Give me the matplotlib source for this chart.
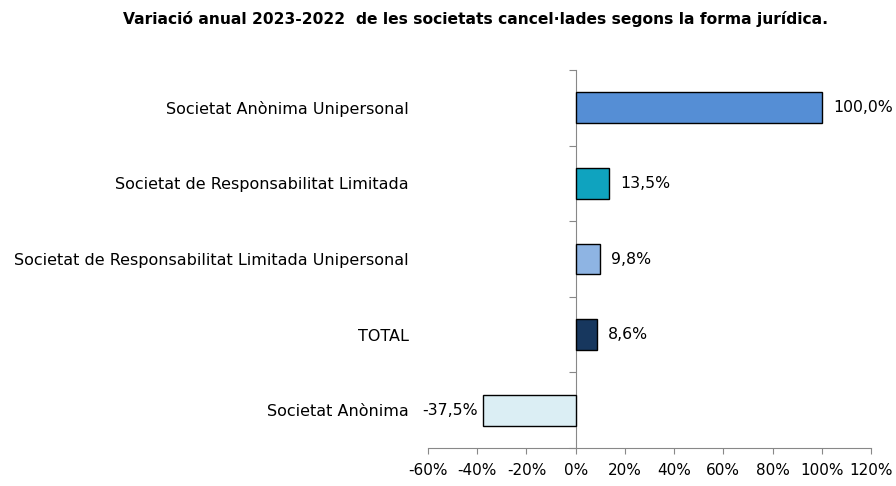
import matplotlib
matplotlib.use("Agg")
import matplotlib.pyplot as plt
import numpy as np

categories = ["Societat Anònima Unipersonal",
              "Societat de Responsabilitat Limitada",
              "Societat de Responsabilitat Limitada Unipersonal",
              "TOTAL",
              "Societat Anònima"]
values = [100.0, 13.5, 9.8, 8.6, -37.5]
colors = ["#558ED5", "#0FA3BF", "#8EB4E3", "#17375E", "#DBEEF4"]
xticks = [-60, -40, -20, 0, 20, 40, 60, 80, 100, 120]
title = "Variació anual 2023-2022  de les societats cancel·lades segons la forma jurídica."

plt.rcParams['font.family'] = ['DejaVu Sans']
fig = plt.figure(figsize=(8.96, 4.86), dpi=100)
ax = fig.add_axes([428/896, 1-448/486, (871-428)/896, (448-70)/486])

n = len(categories)
ypos = np.arange(n)
ax.barh(ypos, values, height=0.41, color=colors, edgecolor="black", linewidth=1.0, zorder=3)
ax.set_ylim(n-0.5, -0.5)
ax.set_xlim(-60, 120)

for y, v in zip(ypos, values):
    lab = f"{v:.1f}".replace(".", ",") + "%"
    if v >= 0:
        ax.annotate(lab, (v, y), xytext=(8, 0), textcoords="offset points",
                    ha="left", va="center", fontsize=11.3)
    else:
        ax.annotate(lab, (v, y), xytext=(-4, 0), textcoords="offset points",
                    ha="right", va="center", fontsize=11.3)

ax.set_yticks(ypos)
ax.set_yticklabels(categories, fontsize=11.5)
ax.tick_params(axis="y", length=0, pad=14)
ax.set_xticks(xticks)
ax.set_xticklabels([f"{t}%" for t in xticks], fontsize=11)
ax.tick_params(axis="x", direction="out", length=4, color="#888888", pad=7)

for s in ["top", "right", "left"]:
    ax.spines[s].set_visible(False)
ax.spines["bottom"].set_color("#888888")

# vertical axis at 0
x0 = (0 - (-60)) / 180
sec = ax.secondary_yaxis(x0)
sec.set_yticks(np.arange(n+1) - 0.5)
sec.set_yticklabels([])
sec.tick_params(axis="y", direction="out", length=5, color="#888888")
sec.spines["left"].set_color("#888888")

fig.text(476/896, 1-19/486, title, ha="center", va="center", fontsize=11.2, fontweight="bold")

fig.savefig("out.png", dpi=100)
